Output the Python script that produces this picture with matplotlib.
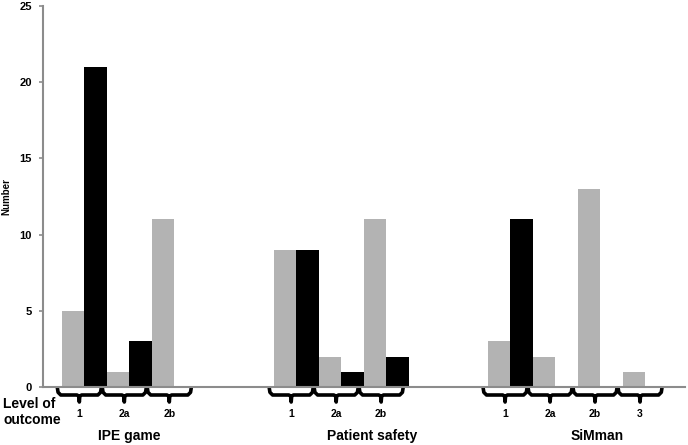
import numpy as np
import matplotlib.pyplot as plt
from matplotlib.transforms import blended_transform_factory

plt.rcParams['font.family'] = ['Liberation Sans', 'DejaVu Sans']
plt.rcParams['font.weight'] = 'bold'

groups = ['IPE game', 'Patient safety', 'SiMman']
levels = [['1', '2a', '2b'], ['1', '2a', '2b'], ['1', '2a', '2b', '3']]
gray_vals = [[5, 1, 11], [9, 2, 11], [3, 2, 13, 1]]
black_vals = [[21, 3, 0], [9, 1, 2], [11, 0, 0, 0]]

# layout (in bar-width units)
group_start = [0, 9.42, 18.93]
label_x = [3.0, 13.8, 23.8]
gray_col = '#b3b3b3'
axis_col = '#8c8c8c'

fig = plt.figure(figsize=(6.88, 4.45), dpi=100)
ax = fig.add_axes([0.0625, 0.130, 0.933, 0.8565])

trans = blended_transform_factory(ax.transData, fig.transFigure)

for g, name in enumerate(groups):
    start = group_start[g]
    for i, lev in enumerate(levels[g]):
        x0 = start + 2 * i
        if gray_vals[g][i] > 0:
            ax.bar(x0, gray_vals[g][i], width=1, align='edge', color=gray_col)
        if black_vals[g][i] > 0:
            ax.bar(x0 + 1, black_vals[g][i], width=1, align='edge', color='black')
        # curly brace under the pair
        l, r = x0 - 0.2, x0 + 1.75
        c = (l + r) / 2
        yt, ym, yb = 1 - 388 / 445, 1 - 395 / 445, 1 - 402 / 445
        bx = [l, l + 0.03, l + 0.15, c - 0.1, c - 0.02, c, c + 0.02, c + 0.1, r - 0.15, r - 0.03, r]
        by = [yt, ym + 0.006, ym, ym, ym - 0.003, yb, ym - 0.003, ym, ym, ym + 0.006, yt]
        ax.plot(bx, by, color='black', lw=2.6, transform=trans, clip_on=False,
                solid_joinstyle='round', solid_capstyle='round')
        fig.text(c, 1 - 414 / 445, lev, transform=trans, ha='center',
                 va='center', fontsize=7.5, fontweight='bold')
    fig.text(label_x[g], 1 - 436 / 445, name, transform=trans, ha='center',
             va='center', fontsize=10, fontweight='bold')

fig.text(0.005, 1 - 412 / 445, 'Level of\noutcome', ha='left', va='center',
         fontsize=10, fontweight='bold', linespacing=1.15)

ax.set_xlim(-0.84, 27.7)
ax.set_ylim(0, 25)
ax.set_yticks([0, 5, 10, 15, 20, 25])
ax.set_xticks([])
ax.tick_params(axis='y', length=3, width=1.2, color=axis_col, labelsize=8, pad=5)
for lab in ax.get_yticklabels():
    lab.set_fontweight('bold')
ax.set_ylabel('Number', fontsize=7, fontweight='bold', labelpad=6)
for s in ['top', 'right']:
    ax.spines[s].set_visible(False)
for s in ['left', 'bottom']:
    ax.spines[s].set_color(axis_col)
    ax.spines[s].set_linewidth(1.5)

fig.savefig('out.png', dpi=100)
